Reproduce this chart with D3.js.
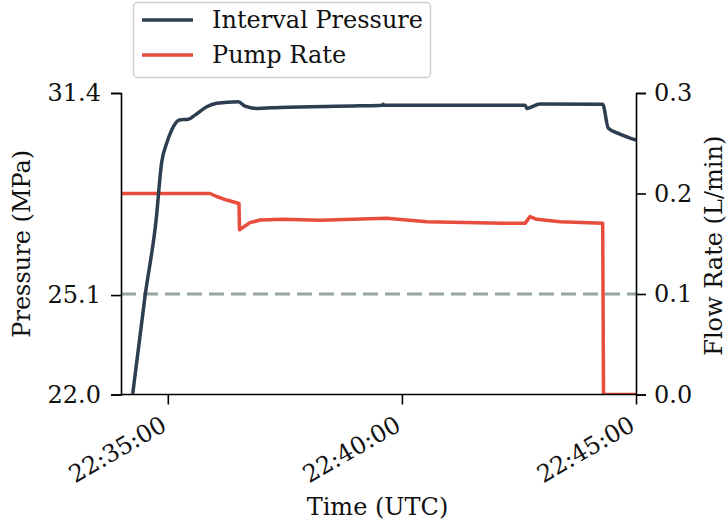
<!DOCTYPE html>
<html>
<head>
<meta charset="utf-8">
<script src="https://cdn.jsdelivr.net/npm/d3@7"></script>
<style>
  html, body { margin: 0; padding: 0; background: #fff; }
  svg { display: block; }
  text { font-family: "DejaVu Serif", serif; fill: #111; }
</style>
</head>
<body>
<svg id="chart" width="728" height="527"></svg>
<script>
// ---- data (seconds after 22:34:00 UTC) ----
const startTime = "2000-01-01T22:34:00Z";
const endTime = "2000-01-01T22:45:00Z";
const pressureSec = [15, 31, 45, 52, 58.6, 65, 74.7, 86.3, 94.8, 109.8, 122.6, 150.3, 158.9, 173.9, 203.8, 306.3, 334.5, 335.8, 337, 517.8, 520.3, 537, 617.3, 624.5, 639.5, 660];
const pressureMPa = [22.02, 25.10, 27.44, 29.22, 29.84, 30.25, 30.56, 30.58, 30.71, 30.97, 31.08, 31.13, 30.99, 30.92, 30.95, 31.00, 31.02, 31.05, 31.02, 31.02, 30.92, 31.06, 31.05, 30.30, 30.12, 29.93];
const rateSec = [0, 114.1, 122.6, 135.5, 151.2, 151.9, 165.3, 178.1, 207.6, 255, 340.5, 391.8, 489.6, 517.8, 524.2, 532.8, 562.6, 617.3, 618.4, 660];
const rateLmin = [0.200, 0.200, 0.197, 0.1935, 0.190, 0.164, 0.171, 0.1736, 0.1743, 0.1733, 0.1753, 0.1719, 0.1703, 0.1703, 0.1771, 0.1743, 0.1719, 0.1703, 0.0, 0.0];
const pressureTicks = [22.0, 25.1, 31.4];
const rateTicks = [0.0, 0.1, 0.2, 0.3];
const timeTicks = ["2000-01-01T22:35:00Z", "2000-01-01T22:40:00Z", "2000-01-01T22:45:00Z"];
const thresholdRate = 0.1;
const seriesNames = ["Interval Pressure", "Pump Rate"];

// ---- layout ----
const M = { left: 121, right: 636, top: 93, bottom: 394.5 };
const navy = "#2c3e50", red = "#e74c3c", grey = "#95a5a6";
const lw = 3.5;

const svg = d3.select("#chart");
const t0 = new Date(startTime);
const toDate = s => new Date(t0.getTime() + s * 1000);

const x = d3.scaleUtc().domain([new Date(startTime), new Date(endTime)]).range([M.left, M.right]);
const yL = d3.scaleLinear().domain([22.0, 31.4]).range([M.bottom, M.top]);
const yR = d3.scaleLinear().domain([0, 0.3]).range([M.bottom, M.top]);

svg.append("defs").append("clipPath").attr("id", "clip")
  .append("rect").attr("x", M.left).attr("y", M.top - 5)
  .attr("width", M.right - M.left).attr("height", M.bottom - M.top + 5);

const plot = svg.append("g").attr("clip-path", "url(#clip)");

// threshold dashed line
plot.append("line")
  .attr("x1", M.left).attr("x2", M.right)
  .attr("y1", yR(thresholdRate)).attr("y2", yR(thresholdRate))
  .attr("stroke", grey).attr("stroke-width", 3).attr("stroke-dasharray", "15,7");

const pData = pressureSec.map((s, i) => [toDate(s), pressureMPa[i]]);
const rData = rateSec.map((s, i) => [toDate(s), rateLmin[i]]);

plot.append("path").datum(rData)
  .attr("fill", "none").attr("stroke", red).attr("stroke-width", lw)
  .attr("stroke-linejoin", "round")
  .attr("d", d3.line().x(d => x(d[0])).y(d => yR(d[1])));

plot.append("path").datum(pData)
  .attr("fill", "none").attr("stroke", navy).attr("stroke-width", lw)
  .attr("stroke-linejoin", "round")
  .attr("d", d3.line().curve(d3.curveMonotoneX).x(d => x(d[0])).y(d => yL(d[1])));

// axes
const fs = 24;
const leftAxis = svg.append("g").attr("transform", `translate(${M.left},0)`)
  .call(d3.axisLeft(yL).tickValues(pressureTicks).tickFormat(d3.format(".1f")).tickSizeOuter(0).tickSize(10).tickPadding(10));
const rightAxis = svg.append("g").attr("transform", `translate(${M.right},0)`)
  .call(d3.axisRight(yR).tickValues(rateTicks).tickFormat(d3.format(".1f")).tickSizeOuter(0).tickSize(10).tickPadding(8));
const bottomAxis = svg.append("g").attr("transform", `translate(0,${M.bottom})`)
  .call(d3.axisBottom(x).tickValues(timeTicks.map(t => new Date(t))).tickFormat(d3.utcFormat("%H:%M:%S")).tickSizeOuter(0).tickSize(10));

[leftAxis, rightAxis, bottomAxis].forEach(g => {
  g.selectAll(".domain").attr("stroke", "#000").attr("stroke-width", 1.6);
  g.selectAll(".tick line").attr("stroke", "#000").attr("stroke-width", 1.6);
  g.selectAll(".tick text").attr("font-family", "DejaVu Serif").attr("font-size", fs).attr("fill", "#111");
});
bottomAxis.select(".domain").attr("d", `M${M.left},0H${M.right}`);

bottomAxis.selectAll(".tick text")
  .attr("text-anchor", "end")
  .attr("y", 0).attr("dy", 0)
  .attr("transform", "translate(0,35) rotate(-30)");

// axis labels
svg.append("text").attr("x", (M.left + M.right) / 2 - 1).attr("y", 515)
  .attr("text-anchor", "middle").attr("font-size", fs).text("Time (UTC)");
svg.append("text").attr("transform", `translate(30,${(M.top + M.bottom) / 2}) rotate(-90)`)
  .attr("text-anchor", "middle").attr("font-size", fs).text("Pressure (MPa)");
svg.append("text").attr("transform", `translate(704,${(M.top + M.bottom) / 2 + 2}) rotate(-90)`)
  .attr("text-anchor", "middle").attr("dominant-baseline", "hanging").attr("font-size", fs).text("Flow Rate (L/min)");

// legend
const lg = svg.append("g");
lg.append("rect").attr("x", 133.5).attr("y", 2.5).attr("width", 297).attr("height", 75)
  .attr("rx", 4).attr("fill", "#fff").attr("fill-opacity", 0.8).attr("stroke", "#d0d0d0").attr("stroke-width", 1.5);
[navy, red].forEach((c, i) => {
  const cy = 20 + i * 35;
  lg.append("line").attr("x1", 142).attr("x2", 193).attr("y1", cy).attr("y2", cy)
    .attr("stroke", c).attr("stroke-width", lw);
  lg.append("text").attr("x", 212).attr("y", cy + 8).attr("font-size", fs).text(seriesNames[i]);
});
</script>
</body>
</html>
